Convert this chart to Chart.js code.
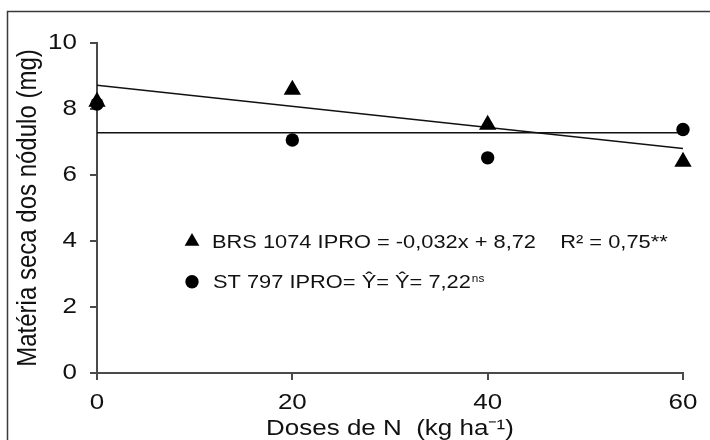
<!DOCTYPE html>
<html>
<head>
<meta charset="utf-8">
<script src="https://cdn.jsdelivr.net/npm/chart.js@4.4.1/dist/chart.umd.min.js"></script>
<style>
    html, body { margin: 0; padding: 0; background: #fff; }
    #wrap { width: 710px; height: 440px; }
</style>
</head>
<body>
<div id="wrap"><canvas id="chart" width="710" height="440"></canvas></div>
<script>
//======================================================================================================================
// Data
//======================================================================================================================

    var doses = [0, 20, 40, 60];
    var brs1074 = [8.22, 8.58, 7.52, 6.40];
    var st797 = [8.15, 7.06, 6.52, 7.38];

    // regression lines, value at the first and last dose
    var fitDoses = [0, 60];
    var brsFit = [8.72, 6.80];
    var stFit = [7.28, 7.28];

    var xTicks = [0, 20, 40, 60];
    var yTicks = [0, 2, 4, 6, 8, 10];

    var brsLabel = 'BRS 1074 IPRO = -0,032x + 8,72    R² = 0,75**';
    var stLabel = 'ST 797 IPRO= Ŷ= Ŷ= 7,22';
    var stNote = 'ns';

//======================================================================================================================
// Setup
//======================================================================================================================

    var FONT = '"Liberation Sans", Arial, sans-serif';
    var TEXT_STRETCH = 1.18;   // the source picture has horizontally widened text
    var TEXT_COLOR = '#111';
    var AXIS_COLOR = '#4a4a4a';

    var canvas = document.getElementById('chart');
    var ctx = canvas.getContext('2d');

    // widen every text draw around its anchor point, in screen space
    var nativeFillText = ctx.fillText;
    ctx.fillText = function(text, x, y) {
        var t = this.getTransform();
        var p = t.transformPoint(new DOMPoint(x, y));
        this.save();
        this.setTransform(new DOMMatrix().translate(p.x, p.y).scale(TEXT_STRETCH, 1).translate(-p.x, -p.y).multiply(t));
        nativeFillText.call(this, text, x, y);
        this.restore();
    };

    function points(xs, ys) {
        return xs.map(function(x, i) { return {x: x, y: ys[i]}; });
    }

    var framePlugin = {
        id: 'frame',
        beforeDraw: function(chart) {
            var c = chart.ctx;
            c.save();
            c.fillStyle = '#fff';
            c.fillRect(0, 0, chart.width, chart.height);
            c.strokeStyle = '#3a3a3a';
            c.lineWidth = 1.5;
            c.beginPath();
            c.moveTo(7.5, chart.height + 5);
            c.lineTo(7.5, 11.5);
            c.lineTo(chart.width + 5, 11.5);
            c.stroke();
            c.restore();
        }
    };

    var equationPlugin = {
        id: 'equations',
        afterDraw: function(chart) {
            var c = chart.ctx;
            var left = chart.chartArea.left;
            var top = chart.chartArea.top;
            var h = Chart.helpers;

            c.save();
            c.fillStyle = '#000';
            c.strokeStyle = '#000';
            h.drawPoint(c, {pointStyle: 'triangle', radius: 8.5, rotation: 0, borderWidth: 0}, left + 95, top + 198.5);
            h.drawPoint(c, {pointStyle: 'circle', radius: 6.7, rotation: 0, borderWidth: 0}, left + 95, top + 238.7);

            c.fillStyle = TEXT_COLOR;
            c.textAlign = 'left';
            c.textBaseline = 'alphabetic';
            c.font = '18.5px ' + FONT;
            c.fillText(brsLabel, left + 115, top + 205.3);
            c.fillText(stLabel, left + 116, top + 245.3);

            var w = c.measureText(stLabel).width * TEXT_STRETCH;
            c.font = '10px ' + FONT;
            c.fillText(stNote, left + 116 + w + 1, top + 238.5);
            c.restore();
        }
    };

//======================================================================================================================
// Chart
//======================================================================================================================

    new Chart(ctx, {
        type: 'scatter',
        plugins: [framePlugin, equationPlugin],
        data: {
            datasets: [{
                label: 'BRS 1074 IPRO',
                data: points(doses, brs1074),
                pointStyle: 'triangle',
                pointRadius: 10,
                backgroundColor: '#000',
                borderColor: '#000',
                borderWidth: 0,
                clip: false
            }, {
                label: 'ST 797 IPRO',
                data: points(doses, st797),
                pointStyle: 'circle',
                pointRadius: 6.7,
                backgroundColor: '#000',
                borderColor: '#000',
                borderWidth: 0,
                clip: false
            }, {
                label: 'BRS 1074 IPRO fit',
                data: points(fitDoses, brsFit),
                showLine: true,
                pointRadius: 0,
                borderColor: '#111',
                borderWidth: 1.5
            }, {
                label: 'ST 797 IPRO fit',
                data: points(fitDoses, stFit),
                showLine: true,
                pointRadius: 0,
                borderColor: '#111',
                borderWidth: 1.5
            }]
        },
        options: {
            responsive: false,
            animation: false,
            devicePixelRatio: 1,
            events: [],
            layout: {
                padding: {left: 0, top: 43, right: 27, bottom: 0}
            },
            plugins: {
                legend: {display: false},
                tooltip: {enabled: false}
            },
            scales: {
                x: {
                    type: 'linear',
                    min: xTicks[0],
                    max: xTicks[xTicks.length - 1],
                    afterFit: function(scale) { scale.height = 67; },
                    afterBuildTicks: function(scale) {
                        scale.ticks = xTicks.map(function(v) { return {value: v}; });
                    },
                    border: {display: true, color: AXIS_COLOR, width: 2},
                    grid: {display: true, drawOnChartArea: false, drawTicks: true, tickLength: 7, color: AXIS_COLOR, lineWidth: 2},
                    ticks: {
                        padding: 10,
                        color: TEXT_COLOR,
                        font: {family: FONT, size: 22},
                        maxRotation: 0,
                        autoSkip: false
                    },
                    title: {
                        display: true,
                        text: 'Doses de N  (kg ha⁻¹)',
                        color: TEXT_COLOR,
                        font: {family: FONT, size: 22, lineHeight: 1},
                        padding: 0
                    }
                },
                y: {
                    min: yTicks[0],
                    max: yTicks[yTicks.length - 1],
                    afterFit: function(scale) { scale.width = 97; },
                    afterBuildTicks: function(scale) {
                        scale.ticks = yTicks.map(function(v) { return {value: v}; });
                    },
                    border: {display: true, color: AXIS_COLOR, width: 2},
                    grid: {display: true, drawOnChartArea: false, drawTicks: true, tickLength: 7, color: AXIS_COLOR, lineWidth: 2},
                    ticks: {
                        padding: 13,
                        color: TEXT_COLOR,
                        font: {family: FONT, size: 22}
                    },
                    title: {
                        display: true,
                        text: 'Matéria seca dos nódulo (mg)',
                        color: TEXT_COLOR,
                        font: {family: FONT, size: 24, lineHeight: 1},
                        padding: {top: 16, bottom: 0}
                    }
                }
            }
        }
    });
</script>
</body>
</html>
